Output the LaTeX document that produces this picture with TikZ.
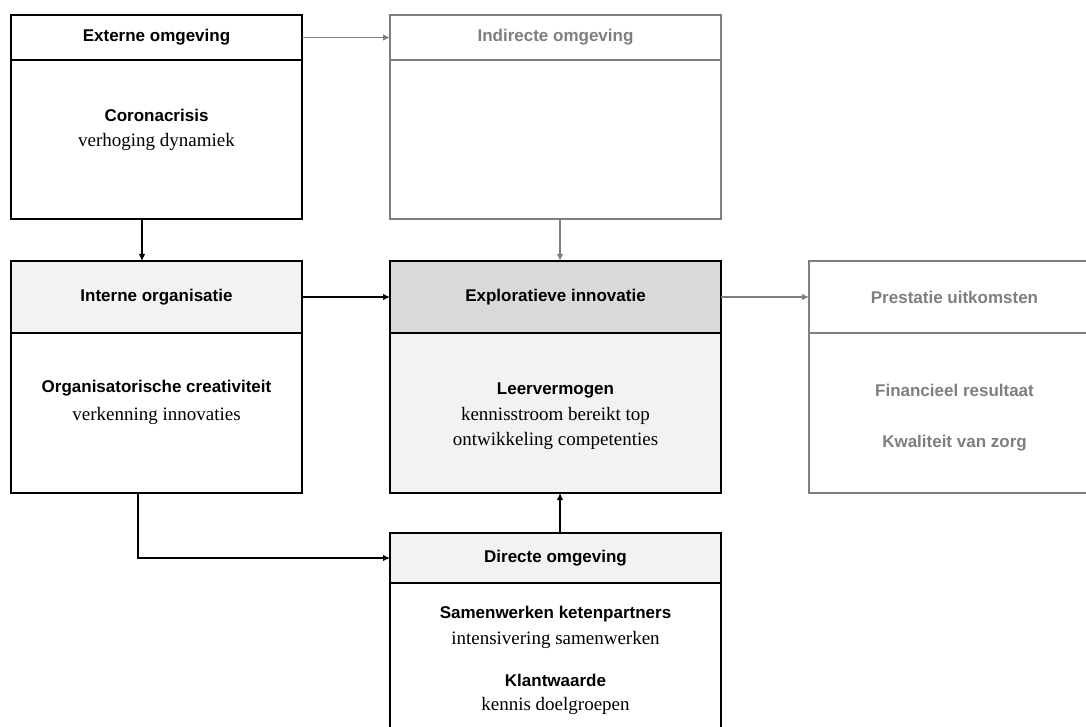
\documentclass[tikz,border=0pt]{standalone}
\usepackage{fontspec}
\setmainfont{Liberation Serif}
\setsansfont{Liberation Sans}
\usetikzlibrary{arrows.meta}
\definecolor{lightfill}{HTML}{F2F2F2}
\definecolor{midfill}{HTML}{D9D9D9}
\definecolor{muted}{HTML}{7F7F7F}
\begin{document}
\begin{tikzpicture}[x=1pt,y=-1pt,
  panel/.style={draw, line width=2pt, anchor=north west, inner sep=0pt, outer sep=0pt},
  mutedpanel/.style={panel, draw=muted, line width=1.6pt},
  ttl/.style={font=\sffamily\bfseries\fontsize{17}{20}\selectfont, inner sep=0pt},
  txt/.style={font=\fontsize{19}{22}\selectfont, inner sep=0pt},
  arrk/.style={-{Latex[length=7pt,width=6.5pt]}, line width=1.1pt},
  arrg/.style={-{Latex[length=7pt,width=6.5pt]}, line width=1.2pt, draw=muted}]
\clip (0,0) rectangle (1086,727);
\fill[white] (0,0) rectangle (1086,727);

% Externe omgeving
\node[panel, minimum width=291pt, minimum height=45pt] (h1) at (11,15) {};
\node[panel, minimum width=291pt, minimum height=159pt] (b1) at (11,60) {};
\node[ttl] (t1) at (h1.center) {Externe omgeving};
\node[ttl] (c1) at (156.5,115) {Coronacrisis};
\node[txt] (d1) at (156.5,142) {verhoging dynamiek};

% Indirecte omgeving
\node[mutedpanel, minimum width=331pt, minimum height=45pt] (h2) at (390,15) {};
\node[mutedpanel, minimum width=331pt, minimum height=159pt] (b2) at (390,60) {};
\node[ttl, text=muted] (t2) at (h2.center) {Indirecte omgeving};

% Interne organisatie
\node[panel, fill=lightfill, minimum width=291pt, minimum height=72pt] (h3) at (11,261) {};
\node[panel, minimum width=291pt, minimum height=160pt] (b3) at (11,333) {};
\node[ttl] (t3) at (h3.center) {Interne organisatie};
\node[ttl] (c3) at (156.5,388) {Organisatorische creativiteit};
\node[txt] (d3) at (156.5,416) {verkenning innovaties};

% Exploratieve innovatie
\node[panel, fill=midfill, minimum width=331pt, minimum height=72pt] (h4) at (390,261) {};
\node[panel, fill=lightfill, minimum width=331pt, minimum height=160pt] (b4) at (390,333) {};
\node[ttl] (t4) at (h4.center) {Exploratieve innovatie};
\node[ttl] (c4) at (555.5,390) {Leervermogen};
\node[txt] (d4) at (555.5,416) {kennisstroom bereikt top};
\node[txt] (e4) at (555.5,441) {ontwikkeling competenties};

% Prestatie uitkomsten
\node[mutedpanel, minimum width=291pt, minimum height=72pt] (h5) at (809,261) {};
\node[mutedpanel, minimum width=291pt, minimum height=160pt] (b5) at (809,333) {};
\node[ttl, text=muted] (t5) at (h5.center) {Prestatie uitkomsten};
\node[ttl, text=muted] (c5) at (954.5,390) {Financieel resultaat};
\node[ttl, text=muted] (e5) at (954.5,443) {Kwaliteit van zorg};

% Directe omgeving
\node[panel, fill=lightfill, minimum width=331pt, minimum height=50pt] (h6) at (390,533) {};
\node[panel, minimum width=331pt, minimum height=180pt] (b6) at (390,583) {};
\node[ttl] (t6) at (h6.center) {Directe omgeving};
\node[ttl] (c6) at (555.5,614) {Samenwerken ketenpartners};
\node[txt] (d6) at (555.5,640) {intensivering samenwerken};
\node[ttl] (f6) at (555.5,680) {Klantwaarde};
\node[txt] (g6) at (555.5,706) {kennis doelgroepen};

% Connectors
\draw[arrg] (h1.east) -- (h2.west);
\draw[arrk] ([xshift=-14.5pt]b1.south) -- ([xshift=-14.5pt]h3.north);
\draw[arrk] (h3.east) -- (h4.west);
\draw[arrg] ([xshift=4.5pt]b2.south) -- ([xshift=4.5pt]h4.north);
\draw[arrg] (h4.east) -- (h5.west);
\draw[arrk] ([xshift=-18.5pt]b3.south) |- (h6.west);
\draw[arrk] ([xshift=4.5pt]h6.north) -- ([xshift=4.5pt]b4.south);
\end{tikzpicture}
\end{document}
